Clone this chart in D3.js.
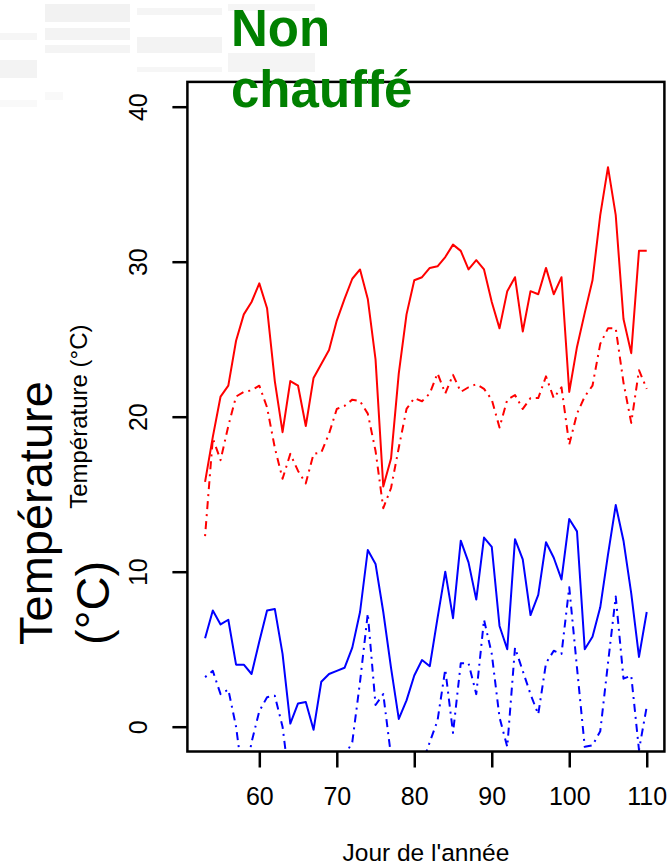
<!DOCTYPE html>
<html>
<head>
<meta charset="utf-8">
<script src="https://cdn.jsdelivr.net/npm/d3@7"></script>
<style>
  html, body { margin: 0; padding: 0; background: #fff; }
  svg { display: block; }
  text { font-family: "Liberation Sans", Arial, sans-serif; }
</style>
</head>
<body>
<svg id="chart" width="669" height="868"></svg>
<script>
// ---- data ----
const days = [53,54,55,56,57,58,59,60,61,62,63,64,65,66,67,68,69,70,71,72,73,74,75,76,77,78,79,80,81,82,83,84,85,86,87,88,89,90,91,92,93,94,95,96,97,98,99,100,101,102,103,104,105,106,107,108,109,110];

const redSolid = [15.8,18.7,21.3,22.0,24.9,26.6,27.4,28.6,27.0,22.3,19.0,22.3,22.0,19.4,22.5,23.4,24.3,26.2,27.6,28.9,29.5,27.6,23.7,15.5,17.3,22.8,26.6,28.8,29.0,29.6,29.7,30.3,31.1,30.7,29.5,30.1,29.5,27.4,25.7,28.1,29.0,25.5,28.1,27.9,29.6,27.9,29.0,21.6,24.5,26.7,28.8,33.0,36.1,33.0,26.3,24.1,30.7,30.7];

const redDash = [12.3,18.6,17.2,19.4,21.3,21.6,21.7,22.0,20.6,18.0,16.0,17.6,16.5,15.7,17.6,17.7,18.9,20.5,20.7,21.1,21.0,20.2,17.8,14.1,15.4,18.0,20.5,21.2,21.0,21.5,22.8,21.5,22.7,21.6,21.9,22.1,21.8,21.1,19.3,21.1,21.4,20.5,21.2,21.2,22.6,21.2,21.9,18.2,20.2,21.3,22.0,24.7,25.7,25.7,22.2,19.6,23.0,21.8];

const blueSolid = [5.7,7.5,6.6,6.9,4.0,4.0,3.4,5.5,7.5,7.6,4.7,0.2,1.5,1.6,-0.2,2.9,3.4,3.6,3.8,5.1,7.4,11.4,10.5,7.4,3.8,0.5,1.7,3.3,4.3,3.9,7.0,10.0,7.0,12.0,10.6,8.2,12.2,11.6,6.5,5.0,12.1,10.8,7.2,8.5,11.9,10.9,9.5,13.4,12.6,5.0,5.8,7.7,11.1,14.3,12.0,8.6,4.5,7.4];

const blueDash = [3.2,3.6,2.1,2.4,0.0,-3.8,-1.0,1.0,1.9,2.0,0.0,-4.0,-4.0,-3.5,-4.0,-3.5,-3.0,-2.8,-1.9,-1.0,2.9,7.3,1.4,2.1,-1.9,-3.5,-3.2,-3.0,-2.4,-1.0,0.4,3.7,-0.4,4.1,4.1,2.1,6.9,4.7,0.6,-1.3,5.1,3.6,2.1,0.8,4.1,4.9,4.7,9.0,3.8,-1.3,-1.2,-0.3,4.1,8.4,3.1,3.3,-1.5,1.3];

const xTicks = [60,70,80,90,100,110];
const yTicks = [0,10,20,30,40];

const titleLines = ["Non", "chauffé"];
const bigYLabelLines = ["Température", "(°C)"];
const smallYLabel = "Température (°C)";
const xLabel = "Jour de l'année";

// ---- layout ----
const svg = d3.select("#chart");
const P = { left: 187.4, right: 664.4, top: 81.9, bottom: 751.5 };

const x = d3.scaleLinear().domain([50.72, 112.28]).range([P.left, P.right]);
const y = d3.scaleLinear().domain([-1.6, 41.6]).range([P.bottom, P.top]);

// faint blurred blocks in the top-left of the reference
const deco = [
  [45,4,85,18,"#f2f2f2"],[137,8,85,7,"#f5f5f5"],[228,4,87,7,"#f5f5f5"],
  [0,33,37,7,"#f6f6f6"],[45,28,85,12,"#f3f3f3"],[45,45,85,8,"#f4f4f4"],
  [137,37,85,16,"#f3f3f3"],[228,53,87,19,"#f4f4f4"],[0,60,37,18,"#f3f3f3"],
  [137,67,85,5,"#f6f6f6"],[45,92,18,8,"#f9f9f9"],[0,100,37,7,"#f9f9f9"]
];
svg.append("g").selectAll("rect").data(deco).join("rect")
  .attr("x", d => d[0]).attr("y", d => d[1]).attr("width", d => d[2]).attr("height", d => d[3])
  .attr("fill", d => d[4]);

// clip
svg.append("defs").append("clipPath").attr("id", "plotclip")
  .append("rect").attr("x", P.left).attr("y", P.top)
  .attr("width", P.right - P.left).attr("height", P.bottom - P.top);

const series = [
  { values: redSolid, color: "#ff0000", dash: null },
  { values: redDash, color: "#ff0000", dash: "2,5,8,5" },
  { values: blueSolid, color: "#0000ff", dash: null },
  { values: blueDash, color: "#0000ff", dash: "2,5,8,5" }
];

const line = d3.line().x(d => x(d[0])).y(d => y(d[1]));
const gLines = svg.append("g").attr("clip-path", "url(#plotclip)");
series.forEach(s => {
  gLines.append("path")
    .datum(days.map((d, i) => [d, s.values[i]]))
    .attr("d", line)
    .attr("fill", "none")
    .attr("stroke", s.color)
    .attr("stroke-width", 2)
    .attr("stroke-linejoin", "round")
    .attr("stroke-dasharray", s.dash);
});

// box
svg.append("rect")
  .attr("x", P.left).attr("y", P.top)
  .attr("width", P.right - P.left).attr("height", P.bottom - P.top)
  .attr("fill", "none").attr("stroke", "#000").attr("stroke-width", 2.5);

// x axis
const gx = svg.append("g").attr("transform", `translate(0,${P.bottom})`)
  .call(d3.axisBottom(x).tickValues(xTicks).tickSize(16).tickFormat(d3.format("d")));
gx.select(".domain").remove();
gx.selectAll(".tick line").attr("stroke", "#000").attr("stroke-width", 2.5);
gx.selectAll(".tick text")
  .attr("y", 53).attr("dy", 0)
  .attr("font-size", 25).attr("fill", "#000")
  .style("font-family", "'Liberation Sans', Arial, sans-serif");

// y axis
const gy = svg.append("g").attr("transform", `translate(${P.left},0)`)
  .call(d3.axisLeft(y).tickValues(yTicks).tickSize(15).tickFormat(d3.format("d")));
gy.select(".domain").remove();
gy.selectAll(".tick line").attr("stroke", "#000").attr("stroke-width", 2.5);
gy.selectAll(".tick text")
  .attr("transform", "rotate(-90)")
  .attr("x", 0).attr("y", -40.5).attr("dy", 0)
  .attr("text-anchor", "middle")
  .attr("font-size", 25).attr("fill", "#000")
  .style("font-family", "'Liberation Sans', Arial, sans-serif");

// x label
svg.append("text")
  .attr("x", (P.left + P.right) / 2).attr("y", 861)
  .attr("text-anchor", "middle").attr("font-size", 24.5).attr("fill", "#000")
  .text(xLabel);

// small y label
svg.append("text")
  .attr("transform", `translate(87,${y(20)}) rotate(-90)`)
  .attr("text-anchor", "middle").attr("font-size", 24).attr("fill", "#000")
  .text(smallYLabel);

// big y label
const bigX = [52, 109];
bigYLabelLines.forEach((t, i) => {
  svg.append("text")
    .attr("transform", `translate(${bigX[i]},645) rotate(-90)`)
    .attr("text-anchor", "start").attr("font-size", 47).attr("fill", "#000")
    .text(t);
});

// title
const titleY = [46, 107];
titleLines.forEach((t, i) => {
  svg.append("text")
    .attr("x", 231).attr("y", titleY[i])
    .attr("font-size", 51).attr("font-weight", "bold").attr("fill", "#008000")
    .text(t);
});
</script>
</body>
</html>
